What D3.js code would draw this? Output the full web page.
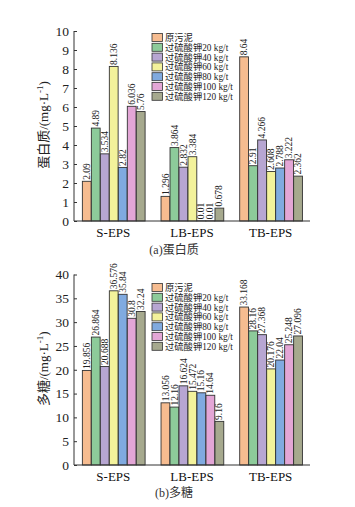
<!DOCTYPE html>
<html><head><meta charset="utf-8">
<script src="https://cdn.jsdelivr.net/npm/d3@7"></script>
<style>body{margin:0;background:#fff;} svg{display:block;}</style>
</head><body>
<script>
const categories = ["S-EPS", "LB-EPS", "TB-EPS"];
const seriesNames = ["原污泥", "过硫酸钾20 kg/t", "过硫酸钾40 kg/t", "过硫酸钾60 kg/t", "过硫酸钾80 kg/t", "过硫酸钾100 kg/t", "过硫酸钾120 kg/t"];
const colors = ["#F6BC90", "#8DCB9A", "#B7A6D2", "#F3F29B", "#80AAE0", "#E3A6D6", "#A6A98E"];
// protein (mg/L), per category, per series
const proteinSEPS = [2.09, 4.89, 3.534, 8.136, 2.82, 6.036, 5.76];
const proteinLBEPS = [1.296, 3.864, 2.832, 3.384, 0.01, 0.01, 0.678];
const proteinTBEPS = [8.64, 2.91, 4.266, 2.608, 2.788, 3.222, 2.362];
// polysaccharide (mg/L)
const sugarSEPS = [19.856, 26.864, 20.688, 36.576, 35.84, 30.8, 32.24];
const sugarLBEPS = [13.056, 12.16, 16.624, 15.472, 15.16, 14.64, 9.16];
const sugarTBEPS = [33.168, 28.16, 27.368, 20.176, 22.04, 25.248, 27.096];
const proteinTicks = [0,1,2,3,4,5,6,7,8,9,10];
const sugarTicks = [0,5,10,15,20,25,30,35,40];

const W = 355, H = 507;
const svg = d3.select("body").append("svg").attr("width", W).attr("height", H);
const serif = "'Liberation Serif','Times New Roman','Noto Sans CJK SC',serif";

function panel(opt) {
  const g = svg.append("g");
  const x0 = d3.scaleBand().domain(categories).range([74, 310]).paddingInner(0.2).paddingOuter(0.1);
  const x1 = d3.scaleBand().domain(d3.range(seriesNames.length)).range([0, x0.bandwidth()]);
  const y = d3.scaleLinear().domain([0, opt.max]).range([opt.yBottom, opt.yTop]);
  const rows = categories.map((c, i) => ({cat: c, vals: opt.data[i]}));

  const grp = g.selectAll("g.grp").data(rows).join("g").attr("transform", d => `translate(${x0(d.cat)},0)`);
  grp.selectAll("rect").data(d => d.vals.map((v, i) => ({v, i}))).join("rect")
    .attr("x", d => x1(d.i) + 0.5).attr("width", x1.bandwidth() - 0.2)
    .attr("y", d => y(d.v)).attr("height", d => y(0) - y(d.v))
    .attr("fill", d => colors[d.i]).attr("stroke", "#333").attr("stroke-width", 0.9);
  grp.selectAll("text").data(d => d.vals.map((v, i) => ({v, i}))).join("text")
    .attr("transform", d => `translate(${x1(d.i) + x1.bandwidth()/2 + 3.5},${y(d.v) - 1.5}) rotate(-90)`)
    .attr("font-family", serif).attr("font-size", 9.5).attr("fill", "#222")
    .text(d => String(d.v));

  // y axis
  const ya = d3.axisLeft(y).tickValues(opt.ticks).tickSize(-3).tickPadding(5).tickFormat(d3.format("d"));
  const yg = g.append("g").attr("transform", "translate(74,0)").call(ya);
  yg.select(".domain").attr("stroke", "#333").attr("stroke-width", 1).attr("d", `M0,${opt.yTop}V${opt.yBottom}`);
  yg.selectAll(".tick line").attr("stroke", "#333");
  yg.selectAll(".tick text").attr("font-family", serif).attr("font-size", 13.5).attr("fill", "#222");
  // x axis
  const xa = d3.axisBottom(x0).tickSize(0).tickPadding(7);
  const xg = g.append("g").attr("transform", `translate(0,${opt.yBottom})`).call(xa);
  xg.select(".domain").attr("stroke", "#333").attr("stroke-width", 1).attr("d", "M74,0H310");
  xg.selectAll(".tick text").attr("font-family", serif).attr("font-size", 13).attr("fill", "#111");

  // y label
  const yl = g.append("text").attr("transform", `translate(48,${(opt.yTop+opt.yBottom)/2 - 1}) rotate(-90)`)
    .attr("text-anchor", "middle").attr("font-family", serif).attr("font-size", 13).attr("fill", "#222");
  yl.append("tspan").text(opt.ylabel + "/(mg·L");
  yl.append("tspan").attr("dy", -5).attr("font-size", 9).text("-1");
  yl.append("tspan").attr("dy", 5).text(")");

  // legend
  const lg = g.append("g");
  seriesNames.forEach((s, i) => {
    const cy = opt.legendY + i * 9.8;
    lg.append("rect").attr("x", 152).attr("y", cy - 4).attr("width", 10.5).attr("height", 8)
      .attr("fill", colors[i]).attr("stroke", "#333").attr("stroke-width", 0.8);
    lg.append("text").attr("x", 165).attr("y", cy + 3.5).attr("font-family", serif)
      .attr("font-size", 9.3).attr("fill", "#222").text(s);
  });

  // caption
  g.append("text").attr("x", 174).attr("y", opt.captionY).attr("text-anchor", "middle")
    .attr("font-family", serif).attr("font-size", 12).attr("fill", "#333").text(opt.caption);
}

panel({data: [proteinSEPS, proteinLBEPS, proteinTBEPS], max: 10, ticks: proteinTicks, yTop: 31, yBottom: 221,
  ylabel: "蛋白质", legendY: 37.5, caption: "(a)蛋白质", captionY: 254});
panel({data: [sugarSEPS, sugarLBEPS, sugarTBEPS], max: 40, ticks: sugarTicks, yTop: 274.5, yBottom: 465,
  ylabel: "多糖", legendY: 287.5, caption: "(b)多糖", captionY: 497});
</script>
</body></html>
